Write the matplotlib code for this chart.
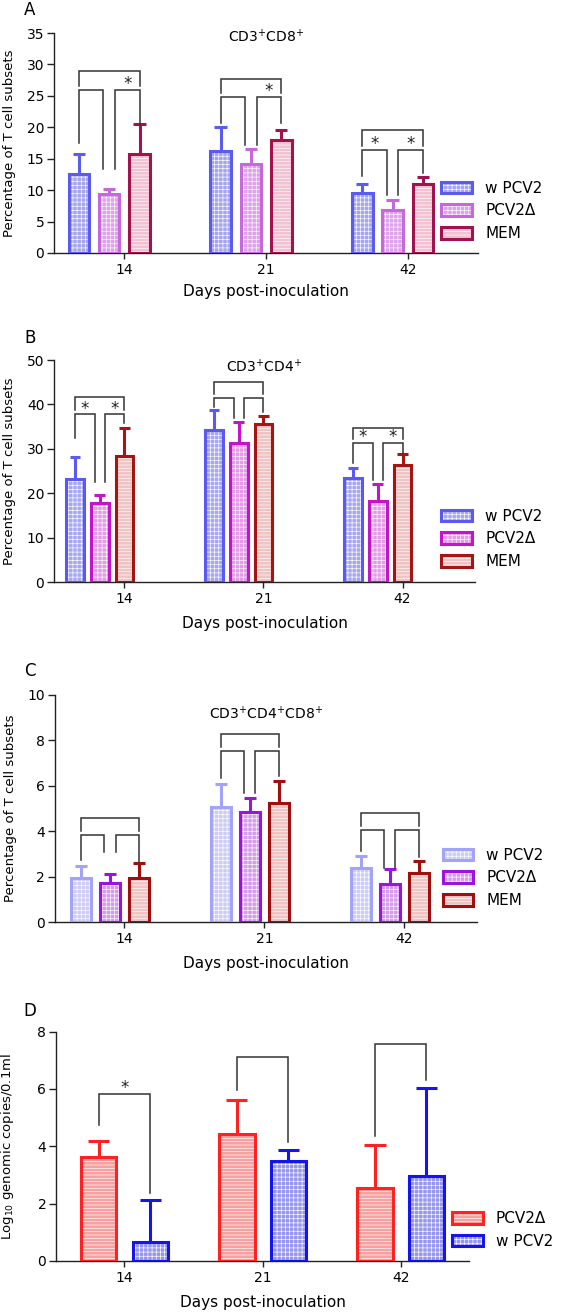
import matplotlib
matplotlib.use('Agg')
import matplotlib.pyplot as plt
from matplotlib.patches import Patch
from matplotlib.legend_handler import HandlerTuple

plt.rcParams['font.family'] = ['DejaVu Sans']
plt.rcParams['mathtext.default'] = 'regular'
plt.rcParams['hatch.linewidth'] = 0.45

days = ['14', '21', '42']

# panel A: CD3+CD8+
a_names = ['w PCV2', 'PCV2Δ', 'MEM']
a_mean = [[12.6, 16.3, 9.6], [9.4, 14.1, 6.8], [15.8, 17.9, 11.0]]
a_err = [[3.1, 3.8, 1.4], [0.8, 2.4, 1.6], [4.8, 1.7, 1.1]]
a_outer = [28.9, 27.7, 19.5]
a_inner = [26.0, 24.9, 16.4]
a_legs = [[17.5, 13.3, 13.3, 20.4], [20.7, 17.2, 17.2, 20.7], [12.2, 9.3, 9.3, 12.7]]
a_stars = [[False, True], [False, True], [True, True]]

# panel B: CD3+CD4+
b_names = ['w PCV2', 'PCV2Δ', 'MEM']
b_mean = [[23.2, 34.3, 23.4], [17.9, 31.4, 18.3], [28.5, 35.6, 26.3]]
b_err = [[4.9, 4.4, 2.2], [1.7, 4.7, 3.8], [6.1, 1.8, 2.5]]
b_outer = [41.7, 45.1, 34.6]
b_inner = [37.8, 41.4, 31.3]
b_legs = [[32.5, 22.6, 22.6, 35.8], [39.5, 36.9, 36.9, 38.4], [26.8, 23.0, 23.0, 29.0]]
b_stars = [[True, True], [False, False], [True, True]]

# panel C: CD3+CD4+CD8+
c_names = ['w PCV2', 'PCV2Δ', 'MEM']
c_mean = [[1.94, 5.09, 2.40], [1.74, 4.84, 1.67], [1.94, 5.26, 2.18]]
c_err = [[0.54, 0.99, 0.53], [0.37, 0.64, 0.66], [0.66, 0.97, 0.53]]
c_outer = [4.6, 8.28, 4.82]
c_inner = [3.84, 7.55, 4.06]
c_legs = [[2.74, 3.1, 3.1, 2.67], [6.33, 5.67, 5.67, 6.45], [3.15, 2.4, 2.4, 2.89]]
c_stars = [[False, False], [False, False], [False, False]]

# panel D: viral load
d_names = ['PCV2Δ', 'w PCV2']
d_mean = [[3.63, 4.41, 2.55], [0.64, 3.49, 2.96]]
d_err = [[0.55, 1.22, 1.49], [1.48, 0.38, 3.08]]
d_top = [5.84, 7.12, 7.57]
d_legs = [[4.74, 2.37], [5.96, 4.16], [4.37, 6.31]]
d_stars = [True, False, False]

BR = '#333333'
LW = 2.2


def setup_axes(ax, ymax, ystep, xlim, ylabel, label_x):
    ax.set_xlim(*xlim)
    ax.set_ylim(0, ymax)
    ax.set_yticks(range(0, ymax + 1, ystep))
    ax.set_xticks(range(len(days)))
    ax.set_xticklabels(days)
    for s in ['top', 'right']:
        ax.spines[s].set_visible(False)
    for s in ['left', 'bottom']:
        ax.spines[s].set_linewidth(1.0)
        ax.spines[s].set_color('#222222')
    ax.tick_params(axis='y', length=5, width=1.0, pad=2, labelsize=10, color='#222222')
    ax.tick_params(axis='x', length=4, width=1.0, pad=3, labelsize=10, color='#222222')
    ax.set_xlabel('Days post-inoculation', fontsize=11)
    ax.xaxis.set_label_coords(0.5, -0.14)
    ax.set_ylabel(ylabel, fontsize=9.5)
    ax.yaxis.set_label_coords(label_x, 0.5)


def draw_bars(ax, means, errs, offsets, pitch, width, edges, fills, hatches):
    for k in range(len(means)):
        xs = [g + offsets[k] * pitch for g in range(len(days))]
        ax.bar(xs, means[k], width, color=fills[k], edgecolor='white', hatch=hatches[k],
               linewidth=0, zorder=2)
        ax.bar(xs, means[k], width, fill=False, edgecolor=edges[k], linewidth=LW, zorder=3)
        tops = [m + e for m, e in zip(means[k], errs[k])]
        ax.vlines(xs, means[k], tops, color=edges[k], linewidth=LW, zorder=3)
        ax.hlines(tops, [x - 0.3 * width for x in xs], [x + 0.3 * width for x in xs],
                  color=edges[k], linewidth=LW, zorder=3)


def star(ax, x, y):
    ax.annotate('*', (x, y), xytext=(0, 0.5), textcoords='offset points',
                ha='center', va='baseline', fontsize=12, color='#222222')


def brackets3(ax, offsets, pitch, width, outer, inner, legs, stars, gap):
    d = 0.28 * width
    for g in range(len(days)):
        x1, x2, x3 = [g + o * pitch for o in offsets]
        kw = dict(color=BR, lw=1.1, solid_joinstyle='miter', zorder=4)
        ax.plot([x1, x1, x3, x3], [inner[g] + gap, outer[g], outer[g], inner[g] + gap], **kw)
        ax.plot([x1, x1, x2 - d, x2 - d], [legs[g][0], inner[g], inner[g], legs[g][1]], **kw)
        ax.plot([x2 + d, x2 + d, x3, x3], [legs[g][2], inner[g], inner[g], legs[g][3]], **kw)
        if stars[g][0]:
            star(ax, (x1 + x2 - d) / 2, inner[g])
        if stars[g][1]:
            star(ax, (x2 + d + x3) / 2, inner[g])


def add_legend(ax, names, edges, fills, hatches, x, y):
    handles = []
    for e, f, h in zip(edges, fills, hatches):
        handles.append((Patch(facecolor=f, edgecolor='white', hatch=h, linewidth=0),
                        Patch(facecolor='none', edgecolor=e, linewidth=LW)))
    ax.legend(handles, names, handler_map={tuple: HandlerTuple(ndivide=1, pad=0)},
              loc='center left', bbox_to_anchor=(x, y), bbox_transform=ax.figure.transFigure,
              frameon=False, fontsize=11, handlelength=2.0, handleheight=0.8,
              handletextpad=0.85, labelspacing=0.5, borderpad=0, borderaxespad=0)


fig = plt.figure(figsize=(5.66, 13.12), dpi=100)

# ---- A ----
axA = fig.add_axes([0.0955, 0.8072, 0.7495, 0.1676])
offA = [-1.5, -0.5, 0.5]
edgesA = ['#5B5BF0', '#C468DC', '#A0134E']
fillsA = ['#A4A4F0', '#DFA0EC', '#F3C2D2']
hatchA = ['++++', '++++', '-----']
draw_bars(axA, a_mean, a_err, offA, 0.214, 0.145, edgesA, fillsA, hatchA)
brackets3(axA, offA, 0.214, 0.145, a_outer, a_inner, a_legs, a_stars, 0.63)
setup_axes(axA, 35, 5, (-0.496, 2.497), 'Percentage of T cell subsets', -0.09)
axA.text(0.5, 0.983, 'CD3$^{+}$CD8$^{+}$', transform=axA.transAxes, ha='center',
         va='center', fontsize=10)
add_legend(axA, a_names, edgesA, fillsA, hatchA, 0.780, 0.8392)

# ---- B ----
axB = fig.add_axes([0.0955, 0.5562, 0.7435, 0.1694])
offB = [-2, -1, 0]
edgesB = ['#5A5AF2', '#C214C8', '#A61515']
fillsB = ['#A6A6F2', '#E49AE8', '#F1C4C4']
hatchB = ['++++', '++++', '-----']
draw_bars(axB, b_mean, b_err, offB, 0.178, 0.128, edgesB, fillsB, hatchB)
brackets3(axB, offB, 0.178, 0.128, b_outer, b_inner, b_legs, b_stars, 0.9)
setup_axes(axB, 50, 10, (-0.506, 2.52), 'Percentage of T cell subsets', -0.09)
axB.xaxis.set_label_coords(0.5, -0.152)
axB.text(0.5, 0.97, 'CD3$^{+}$CD4$^{+}$', transform=axB.transAxes, ha='center',
         va='center', fontsize=10)
add_legend(axB, b_names, edgesB, fillsB, hatchB, 0.780, 0.5892)

# ---- C ----
axC = fig.add_axes([0.097, 0.297, 0.7449, 0.1733])
offC = [-1.5, -0.5, 0.5]
edgesC = ['#A3A3F8', '#9B14DB', '#A00E0E']
fillsC = ['#CCCCF6', '#D69AEC', '#F1C4C4']
hatchC = ['++++', '++++', '-----']
draw_bars(axC, c_mean, c_err, offC, 0.207, 0.142, edgesC, fillsC, hatchC)
brackets3(axC, offC, 0.207, 0.142, c_outer, c_inner, c_legs, c_stars, 0.18)
setup_axes(axC, 10, 2, (-0.497, 2.516), 'Percentage of T cell subsets', -0.09)
axC.xaxis.set_label_coords(0.5, -0.148)
axC.text(0.5, 0.916, 'CD3$^{+}$CD4$^{+}$CD8$^{+}$', transform=axC.transAxes, ha='center',
         va='center', fontsize=10)
add_legend(axC, c_names, edgesC, fillsC, hatchC, 0.782, 0.3308)

# ---- D ----
axD = fig.add_axes([0.0989, 0.039, 0.7303, 0.1747])
offD = [-0.5, 0.5]
edgesD = ['#FF2222', '#1414EE']
fillsD = ['#F7A0A0', '#9696EE']
hatchD = ['-----', '++++']
draw_bars(axD, d_mean, d_err, offD, 0.372, 0.255, edgesD, fillsD, hatchD)
for g in range(len(days)):
    x1, x2 = [g + o * 0.372 for o in offD]
    axD.plot([x1, x1, x2, x2], [d_legs[g][0], d_top[g], d_top[g], d_legs[g][1]],
             color=BR, lw=1.1, solid_joinstyle='miter', zorder=4)
    if d_stars[g]:
        star(axD, (x1 + x2) / 2, d_top[g])
setup_axes(axD, 8, 2, (-0.496, 2.497), 'Log$_{10}$ genomic copies/0.1ml', -0.097)
axD.xaxis.set_label_coords(0.5, -0.15)
add_legend(axD, d_names, edgesD, fillsD, hatchD, 0.799, 0.0625)

for letter, y in zip('ABCD', [0.992, 0.7424, 0.4886, 0.2294]):
    fig.text(0.053, y, letter, ha='center', va='center', fontsize=12)

fig.savefig('out.png', dpi=100)
